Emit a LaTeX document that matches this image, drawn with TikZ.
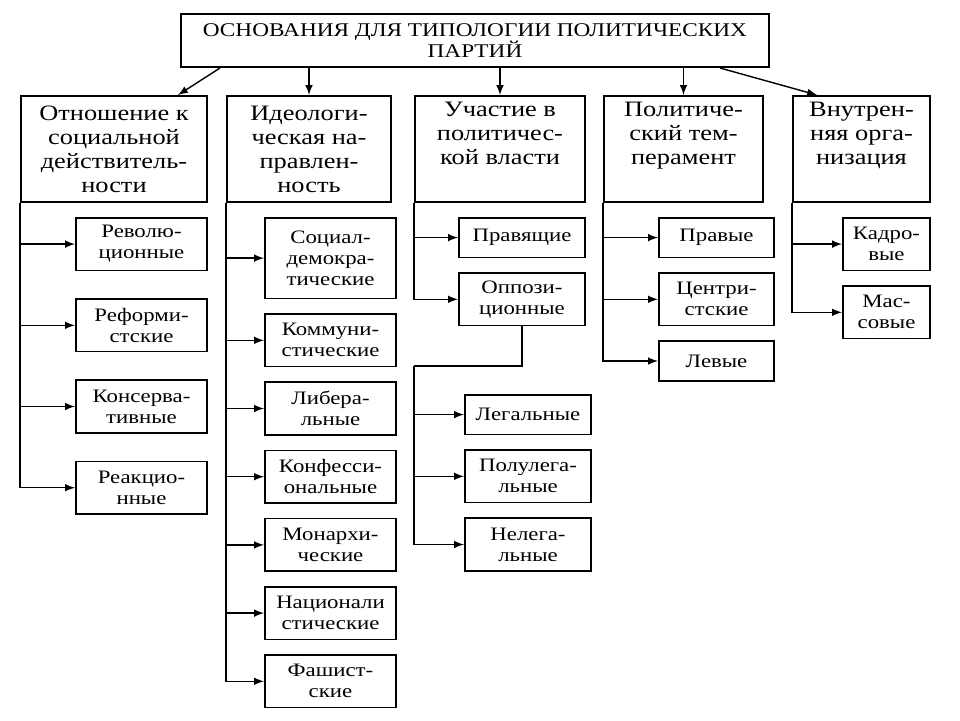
\documentclass[tikz,border=0pt]{standalone}
\usepackage{fontspec}
\setmainfont[FakeStretch=1.2]{Liberation Serif}
\usepackage{tikz}
\usetikzlibrary{shapes,arrows,positioning}

\begin{document}
\begin{tikzpicture}[
    x=0.5pt, y=-0.5pt,
    node distance=7pt,
    title/.style={rectangle, draw, line width=0.8pt, align=center, anchor=north west, minimum width=294.2pt, minimum height=26.7pt, font=\fontsize{9.7}{10.5}\selectfont},
    header/.style={rectangle, draw, line width=0.8pt, align=center, inner sep=2pt, anchor=north west, minimum height=53.2pt, font=\fontsize{11}{12}\selectfont},
    leaf/.style={rectangle, draw, line width=0.8pt, align=center, inner sep=1.5pt, minimum height=26.3pt, font=\fontsize{9.5}{10.5}\selectfont},
    single/.style={leaf, minimum height=19.8pt},
    triple/.style={leaf, minimum height=40.3pt},
    arrow/.style={line width=0.7pt,->,>=latex},
    line/.style={line width=0.7pt}
]
\useasboundingbox (0,0) rectangle (960,720);

\node[title] (base) at (180,13) {ОСНОВАНИЯ ДЛЯ ТИПОЛОГИИ ПОЛИТИЧЕСКИХ\\ПАРТИЙ};

\node[header, minimum width=93.2pt] (reality) at (20,95) {Отношение к\\социальной\\действитель-\\ности};
\node[header, minimum width=82.2pt] (ideology) at (226,95) {Идеологи-\\ческая на-\\правлен-\\ность};
\node[header, minimum width=85.2pt] (power) at (414,95) {Участие в\\политичес-\\кой власти\\ \strut};
\node[header, minimum width=79.7pt] (temper) at (603,95) {Политиче-\\ский тем-\\перамент\\ \strut};
\node[header, minimum width=68.7pt] (inner) at (792,95) {Внутрен-\\няя орга-\\низация\\ \strut};

% attitude to reality
\node[leaf, minimum width=65.7pt, anchor=north west] (revol) at (75,217) {Револю-\\ционные};
\node[leaf, minimum width=65.7pt, below=13.5pt of revol] (reform) {Реформи-\\стские};
\node[leaf, minimum width=65.7pt, below=13.5pt of reform] (conserv) {Консерва-\\тивные};
\node[leaf, minimum width=65.7pt, below=13.5pt of conserv] (react) {Реакцио-\\нные};

% ideology
\node[triple, minimum width=65.7pt, anchor=north west] (socdem) at (264,217) {Социал-\\демокра-\\тические};
\node[leaf, minimum width=65.7pt, below=of socdem] (commun) {Коммуни-\\стические};
\node[leaf, minimum width=65.7pt, below=of commun] (liberal) {Либера-\\льные};
\node[leaf, minimum width=65.7pt, below=of liberal] (confess) {Конфесси-\\ональные};
\node[leaf, minimum width=65.7pt, below=of confess] (monarch) {Монархи-\\ческие};
\node[leaf, minimum width=65.7pt, below=of monarch] (nation) {Национали\\стические};
\node[leaf, minimum width=65.7pt, below=of nation] (fascist) {Фашист-\\ские};

% power
\node[single, minimum width=63.2pt, anchor=north west] (ruling) at (458,217) {Правящие};
\node[leaf, minimum width=63.2pt, below=of ruling] (opposit) {Оппози-\\ционные};
\node[single, minimum width=63.2pt, anchor=north west] (legal) at (464,394) {Легальные};
\node[leaf, minimum width=63.2pt, below=of legal] (semilegal) {Полулега-\\льные};
\node[leaf, minimum width=63.2pt, below=of semilegal] (illegal) {Нелега-\\льные};
\coordinate (oppfork) at (414,366);

% temperament
\node[single, minimum width=57.7pt, anchor=north west] (right) at (658,217) {Правые};
\node[leaf, minimum width=57.7pt, below=of right] (centre) {Центри-\\стские};
\node[single, minimum width=57.7pt, below=of centre] (left) {Левые};

% organization
\node[leaf, minimum width=43.7pt, anchor=north west] (cadre) at (842,217) {Кадро-\\вые};
\node[leaf, minimum width=43.7pt, below=of cadre] (mass) {Мас-\\совые};

\draw[arrow] ([xshift=20pt]base.south west) -- ([xshift=-15pt]reality.north east);
\draw[arrow] (base.south -| ideology) -- (ideology);
\draw[arrow] (base.south -| power) -- (power);
\draw[arrow] (base.south -| temper) -- (temper);
\draw[arrow] ([xshift=-25pt]base.south east) -- ([xshift=12.5pt]inner.north west);

\foreach \kind in {revol,reform,conserv,react}
    \draw[arrow] (reality.south west) |- (\kind.west);
\foreach \kind in {socdem,commun,liberal,confess,monarch,nation,fascist}
    \draw[arrow] (ideology.south west) |- (\kind.west);
\foreach \kind in {ruling,opposit}
    \draw[arrow] (power.south west) |- (\kind.west);
\draw[line] (opposit.south) |- (oppfork);
\foreach \kind in {legal,semilegal,illegal}
    \draw[arrow] (oppfork) |- (\kind.west);
\foreach \kind in {right,centre,left}
    \draw[arrow] (temper.south west) |- (\kind.west);
\foreach \kind in {cadre,mass}
    \draw[arrow] (inner.south west) |- (\kind.west);

\end{tikzpicture}
\end{document}
